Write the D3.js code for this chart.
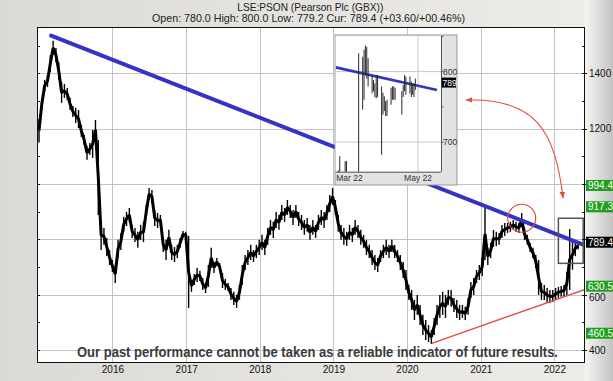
<!DOCTYPE html>
<html><head><meta charset="utf-8">
<script src="https://cdn.jsdelivr.net/npm/d3@7"></script>
<style>
html,body{margin:0;padding:0;background:#e9e8e4;}
svg{display:block;font-family:"Liberation Sans",Arial,sans-serif;}
</style></head><body>
<svg id="c" width="613" height="381"></svg>
<script>
// ---------- DATA ----------
const titleText = "LSE:PSON (Pearson Plc (GBX))";
const subtitleText = "Open: 780.0 High: 800.0 Low: 779.2 Cur: 789.4 (+03.60/+00.46%)";
const disclaimerText = "Our past performance cannot be taken as a reliable indicator of future results.";

const seriesStart = "2015-01-02";   // first bar, bars every 14 days
const seriesStepDays = 14;
const highs = [1235,1310,1376,1394,1466,1517,1491,1440,1368,1361,
 1347,1311,1282,1275,1267,1213,1177,1137,1148,1195,
 1231,1159,870,841,805,761,725,707,798,823,
 881,899,913,852,841,827,852,863,924,985,
 978,906,895,888,808,798,834,780,772,780,
 805,830,827,812,653,675,696,686,660,642,
 707,769,718,732,714,678,657,642,624,610,
 599,635,707,743,761,780,761,780,798,816,
 798,841,870,863,899,888,924,913,942,924,
 906,924,899,888,870,877,852,870,852,888,
 906,899,924,960,985,942,888,852,841,827,
 852,841,870,852,834,816,798,780,761,743,
 732,761,780,798,780,798,780,761,743,718,
 689,635,617,581,599,563,527,508,490,472,
 516,563,599,610,599,617,617,588,581,563,
 563,556,588,646,660,689,707,732,913,769,
 787,834,827,823,852,859,859,863,870,863,
 859,895,841,816,787,769,743,725,642,635,
 624,617,617,624,628,631,635,682,837,800,
 795,790];
const lows = [1150,1270,1333,1350,1405,1466,1440,1376,1293,1311,
 1304,1267,1242,1220,1202,1170,1141,1087,1105,1094,
 1159,888,761,780,740,707,682,642,733,761,
 826,848,863,805,790,769,798,790,877,942,
 931,848,841,852,754,725,780,725,718,732,
 769,805,805,552,610,635,646,649,617,606,
 628,696,678,704,686,624,617,613,581,563,
 552,581,635,689,707,725,718,732,743,761,
 743,780,816,805,841,834,870,863,888,877,
 852,877,848,834,816,827,798,816,805,834,
 852,841,870,899,924,888,827,798,780,776,
 798,790,816,805,780,769,743,732,707,689,
 682,718,732,743,732,754,732,718,689,660,
 617,581,545,508,527,490,454,436,429,422,
 454,490,516,527,516,563,556,537,516,508,
 516,508,527,588,599,642,653,667,725,707,
 732,772,776,780,805,812,823,827,834,827,
 823,845,798,780,754,732,696,599,581,581,
 573,570,573,581,588,592,595,599,617,690,
 739,764];

const xDomain = ["2014-12-23", "2022-06-02"];
const yDomain = [353, 1567];
const yearTicks = ["2016-01-01","2017-01-01","2018-01-01","2019-01-01","2020-01-01","2021-01-01","2022-01-01"];
const priceGrid = [400, 600, 800, 1000, 1200, 1400];
const priceLabels = [400, 600, 1200, 1400];   // 800 and 1000 are hidden under the level boxes
const minorPriceTicks = [400,500,600,700,800,900,1000,1100,1200,1300,1400,1500];
const greenLevels = [994.4, 917.3, 630.5, 460.5];
const currentPrice = 789.4;

const trendLine = [["2015-03-03", 1536], ["2022-06-02", 778]];
const supportLine = [["2020-05-03", 424], ["2022-06-02", 619]];
const circleCenter = ["2021-07-23", 876];
const boxCorners = [["2022-01-21", 876], ["2022-05-24", 713]];
const arrowPoints = [["2020-10-20", 1303], ["2021-09-27", 1311], ["2022-01-04", 1195], ["2022-02-13", 949]];

// inset (Mar-May 2022, daily)
const insetDates = ["2022-03-01","2022-03-02","2022-03-03","2022-03-04","2022-03-07","2022-03-08","2022-03-09","2022-03-10","2022-03-11","2022-03-14","2022-03-15","2022-03-16","2022-03-17","2022-03-18","2022-03-21","2022-03-22","2022-03-23","2022-03-24","2022-03-25","2022-03-28","2022-03-29","2022-03-30","2022-03-31","2022-04-01","2022-04-04","2022-04-05","2022-04-06","2022-04-07","2022-04-08","2022-04-11","2022-04-12","2022-04-13","2022-04-14","2022-04-19","2022-04-20","2022-04-21","2022-04-22","2022-04-25","2022-04-26","2022-04-27","2022-04-28","2022-04-29"];
const insetHigh = [650,645,660,680,655,673,673,650,645,640,638,645,650,826,821,831,837,835,819,795,788,783,795,795,779,770,765,758,760,777,779,779,777,772,781,795,793,793,786,783,783,790];
const insetLow = [625,620,630,640,615,630,640,625,620,615,612,620,628,640,746,760,795,790,779,769,772,764,762,764,682,739,744,737,737,753,760,760,760,739,764,772,767,769,764,767,764,774];
const insetXDomain = ["2022-03-01", "2022-05-18"];
const insetYDomain = [658, 850.5];
const insetYTicks = [700, 800];
const insetMinorTicks = [700, 750, 800, 850];
const insetXTicks = [["2022-03-01", "Mar 22"], ["2022-05-01", "May 22"]];
const insetTrend = [["2022-03-01", 806], ["2022-05-15", 774]];
const insetCurrent = "789";

// ---------- RENDER ----------
const parse = d3.timeParse("%Y-%m-%d");
const svg = d3.select("#c");
const W = 613, H = 381;
const P = {l: 37, r: 585, t: 27, b: 363};

const x = d3.scaleTime().domain(xDomain.map(parse)).range([P.l, P.r]);
const y = d3.scaleLinear().domain(yDomain).range([P.b, P.t]);

const defs = svg.append("defs");
const gR = defs.append("linearGradient").attr("id","gr").attr("x1","0").attr("x2","1").attr("y1","0").attr("y2","0");
gR.append("stop").attr("offset","0").attr("stop-color","#f4f4f3");
gR.append("stop").attr("offset","1").attr("stop-color","#c4c4c4");
const gL = defs.append("linearGradient").attr("id","gl").attr("x1","0").attr("x2","1").attr("y1","0").attr("y2","0");
gL.append("stop").attr("offset","0").attr("stop-color","#dcdad5");
gL.append("stop").attr("offset","1").attr("stop-color","#eeede9");
defs.append("clipPath").attr("id","clipMain").append("rect")
  .attr("x",P.l).attr("y",P.t).attr("width",P.r-P.l).attr("height",P.b-P.t);

// backgrounds
svg.append("rect").attr("width",W).attr("height",H).attr("fill","url(#gl)");
svg.append("rect").attr("x",P.r).attr("y",0).attr("width",W-P.r).attr("height",H).attr("fill","url(#gr)");
svg.append("rect").attr("x",P.l).attr("y",P.t).attr("width",P.r-P.l).attr("height",P.b-P.t).attr("fill","#ffffff");

// grid
const grid = svg.append("g").attr("stroke","#c4c4c4").attr("stroke-width",1);
yearTicks.map(parse).forEach(d => grid.append("line")
  .attr("x1",Math.round(x(d))+0.5).attr("x2",Math.round(x(d))+0.5).attr("y1",P.t).attr("y2",P.b));
priceGrid.forEach(v => grid.append("line")
  .attr("x1",P.l).attr("x2",P.r).attr("y1",Math.round(y(v))+0.5).attr("y2",Math.round(y(v))+0.5));

// price series
const start = parse(seriesStart);
const bars = highs.map((h,i) => ({d: d3.timeDay.offset(start, i*seriesStepDays), h, l: lows[i]}));
const gMain = svg.append("g").attr("clip-path","url(#clipMain)");
gMain.selectAll("line.bar").data(bars).enter().append("line")
  .attr("x1",b=>x(b.d)).attr("x2",b=>x(b.d)).attr("y1",b=>y(b.h)).attr("y2",b=>y(b.l))
  .attr("stroke","#000").attr("stroke-width",1.4);
gMain.append("path").datum(bars)
  .attr("d", d3.line().x(b=>x(b.d)).y(b=>y((b.h+b.l)/2)))
  .attr("fill","none").attr("stroke","#000").attr("stroke-width",3).attr("stroke-linejoin","bevel");

// trend lines
gMain.append("line")
  .attr("x1",x(parse(trendLine[0][0]))).attr("y1",y(trendLine[0][1]))
  .attr("x2",x(parse(trendLine[1][0]))).attr("y2",y(trendLine[1][1]))
  .attr("stroke","#3434c4").attr("stroke-width",4).attr("stroke-linecap","round");
gMain.append("line")
  .attr("x1",x(parse(supportLine[0][0]))).attr("y1",y(supportLine[0][1]))
  .attr("x2",x(parse(supportLine[1][0]))).attr("y2",y(supportLine[1][1]))
  .attr("stroke","#e2503e").attr("stroke-width",1.5);
gMain.append("circle")
  .attr("cx",x(parse(circleCenter[0]))).attr("cy",y(circleCenter[1])).attr("r",14)
  .attr("fill","none").attr("stroke","#d94a3a").attr("stroke-width",1.2);
gMain.append("rect")
  .attr("x",x(parse(boxCorners[0][0]))).attr("y",y(boxCorners[0][1]))
  .attr("width",x(parse(boxCorners[1][0]))-x(parse(boxCorners[0][0])))
  .attr("height",y(boxCorners[1][1])-y(boxCorners[0][1]))
  .attr("fill","none").attr("stroke","#555").attr("stroke-width",1.5);

// frame
svg.append("rect").attr("x",P.l+0.5).attr("y",P.t+0.5).attr("width",P.r-P.l-1).attr("height",P.b-P.t-1)
  .attr("fill","none").attr("stroke","#111").attr("stroke-width",1);

// ticks left/right
const tk = svg.append("g").attr("stroke","#111").attr("stroke-width",1);
minorPriceTicks.forEach(v => {
  const yy = Math.round(y(v))+0.5;
  tk.append("line").attr("x1",P.l).attr("x2",P.l+3).attr("y1",yy).attr("y2",yy);
  tk.append("line").attr("x1",P.r-3).attr("x2",P.r+(priceGrid.includes(v)?2:0)).attr("y1",yy).attr("y2",yy);
});

// right axis labels
const yAxis = d3.axisRight(y).tickValues(priceLabels).tickSize(0).tickPadding(4).tickFormat(d3.format("d"));
const ya = svg.append("g").attr("transform",`translate(${P.r},0)`).call(yAxis);
ya.select(".domain").remove();
ya.selectAll("text").attr("font-size",10).attr("font-family","Liberation Sans, Arial, sans-serif").attr("fill","#111")
  .attr("dy", d => d === 600 ? "0.55em" : "0.32em");

// bottom axis labels
const xAxis = d3.axisBottom(x).tickValues(yearTicks.map(parse)).tickSize(0).tickPadding(3).tickFormat(d3.timeFormat("%Y"));
const xa = svg.append("g").attr("transform",`translate(0,${P.b})`).call(xAxis);
xa.select(".domain").remove();
xa.selectAll("text").attr("font-size",10).attr("font-family","Liberation Sans, Arial, sans-serif").attr("fill","#111");

// level labels
const lv = svg.append("g");
greenLevels.forEach(v => {
  lv.append("rect").attr("x",P.r+1).attr("y",y(v)-5.5).attr("width",W-P.r).attr("height",11).attr("fill","#1f9e1f");
  lv.append("text").attr("x",P.r+3).attr("y",y(v)).attr("dy","0.36em").attr("font-size",10).attr("fill","#fff").text(d3.format(".1f")(v));
});
lv.append("rect").attr("x",P.r+1).attr("y",y(currentPrice)-5.5).attr("width",W-P.r).attr("height",11).attr("fill","#000");
lv.append("text").attr("x",P.r+3).attr("y",y(currentPrice)).attr("dy","0.36em").attr("font-size",10).attr("fill","#fff").text(d3.format(".1f")(currentPrice));

// ---------- INSET ----------
const I = {l: 335.7, r: 441, t: 36, b: 171.7};
const ix = d3.scaleTime().domain(insetXDomain.map(parse)).range([I.l, I.r]);
const iy = d3.scaleLinear().domain(insetYDomain).range([I.b, I.t]);
const gi = svg.append("g");
gi.append("rect").attr("x",335).attr("y",35).attr("width",122).attr("height",150)
  .attr("fill","#e2e2e2").attr("stroke","#9a9a9a").attr("stroke-width",1);
gi.append("rect").attr("x",I.l).attr("y",I.t).attr("width",I.r-I.l).attr("height",I.b-I.t).attr("fill","#fff");
defs.append("clipPath").attr("id","clipInset").append("rect")
  .attr("x",I.l).attr("y",I.t).attr("width",I.r-I.l).attr("height",I.b-I.t);
insetYTicks.forEach(v => gi.append("line").attr("x1",I.l).attr("x2",I.r).attr("y1",iy(v)).attr("y2",iy(v)).attr("stroke","#c8c8c8"));
gi.append("line").attr("x1",ix(parse(insetXTicks[1][0]))).attr("x2",ix(parse(insetXTicks[1][0]))).attr("y1",I.t).attr("y2",I.b).attr("stroke","#c8c8c8");
const gic = gi.append("g").attr("clip-path","url(#clipInset)");
gic.append("line")
  .attr("x1",ix(parse(insetTrend[0][0]))).attr("y1",iy(insetTrend[0][1]))
  .attr("x2",ix(parse(insetTrend[1][0]))).attr("y2",iy(insetTrend[1][1]))
  .attr("stroke","#3434c4").attr("stroke-width",2.6);
gic.selectAll("line.ib").data(insetDates.map((d,i)=>({d:parse(d),h:insetHigh[i],l:insetLow[i]}))).enter().append("line")
  .attr("x1",b=>ix(b.d)).attr("x2",b=>ix(b.d)).attr("y1",b=>iy(b.h)).attr("y2",b=>iy(b.l))
  .attr("stroke","#2a2a2a").attr("stroke-width",1);
gi.append("line").attr("x1",I.r+0.5).attr("x2",I.r+0.5).attr("y1",I.t).attr("y2",I.b).attr("stroke","#555");
gi.append("line").attr("x1",I.l).attr("x2",I.r).attr("y1",I.b+0.5).attr("y2",I.b+0.5).attr("stroke","#555");
insetMinorTicks.forEach(v => gi.append("line").attr("x1",I.r).attr("x2",I.r+2.5).attr("y1",iy(v)).attr("y2",iy(v)).attr("stroke","#555"));
insetYTicks.forEach(v => gi.append("text").attr("x",I.r+2).attr("y",iy(v)).attr("dy","0.35em").attr("font-size",8.5).attr("fill","#333").text(v));
gi.append("rect").attr("x",I.r+0.7).attr("y",iy(currentPrice)-1.5).attr("width",14.3).attr("height",10).attr("fill","#000");
gi.append("text").attr("x",I.r+1.5).attr("y",iy(currentPrice)+3.5).attr("dy","0.35em").attr("font-size",8.5).attr("fill","#fff").text(insetCurrent);
gi.append("text").attr("x",ix(parse(insetXTicks[0][0]))+0.5).attr("y",I.b+9.5).attr("font-size",8.5).attr("fill","#333").text(insetXTicks[0][1]);
gi.append("text").attr("x",ix(parse(insetXTicks[1][0]))).attr("y",I.b+9.5).attr("text-anchor","middle").attr("font-size",8.5).attr("fill","#333").text(insetXTicks[1][1]);

// ---------- ARROW ----------
const mk = defs.append("marker").attr("id","ah").attr("viewBox","0 0 10 10").attr("refX",9).attr("refY",5)
  .attr("markerWidth",7).attr("markerHeight",7).attr("markerUnits","userSpaceOnUse").attr("orient","auto-start-reverse");
mk.append("path").attr("d","M0,1 L10,5 L0,9 Z").attr("fill","#e2503e");
const ap = arrowPoints.map(p => [x(parse(p[0])), y(p[1])]);
svg.append("path")
  .attr("d", `M${ap[0][0]},${ap[0][1]} C${ap[1][0]},${ap[1][1]} ${ap[2][0]},${ap[2][1]} ${ap[3][0]},${ap[3][1]}`)
  .attr("fill","none").attr("stroke","#e2503e").attr("stroke-width",1.1)
  .attr("marker-start","url(#ah)").attr("marker-end","url(#ah)");

// ---------- TITLES ----------
svg.append("text").attr("x",310.3).attr("y",11).attr("text-anchor","middle").attr("font-size",11)
  .attr("fill","#222").attr("textLength",146).attr("lengthAdjust","spacingAndGlyphs").text(titleText);
svg.append("text").attr("x",308.5).attr("y",22).attr("text-anchor","middle").attr("font-size",11)
  .attr("fill","#222").attr("textLength",313).attr("lengthAdjust","spacingAndGlyphs").text(subtitleText);
svg.append("text").attr("transform","translate(77,357) scale(1,1.22)").attr("font-size",11.5).attr("font-weight","bold")
  .attr("fill","#3a3a3a").attr("textLength",481).attr("lengthAdjust","spacingAndGlyphs").text(disclaimerText);
</script>
</body></html>
